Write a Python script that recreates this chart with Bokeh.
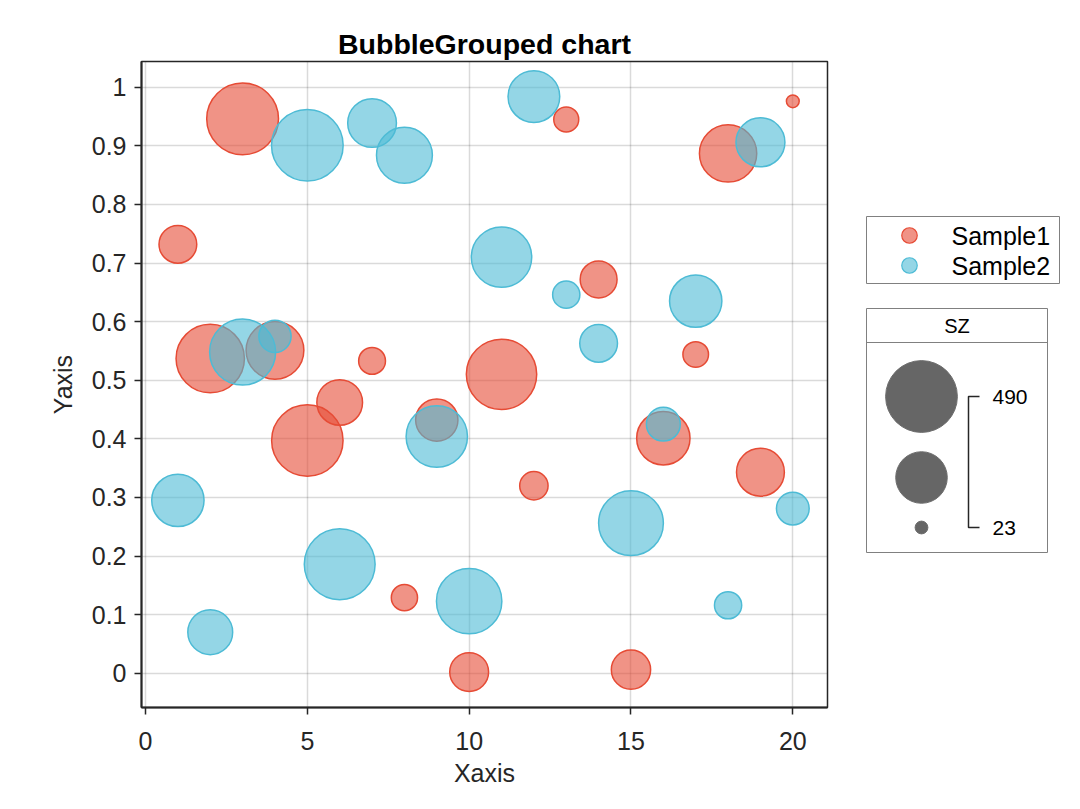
import numpy as np
from bokeh.plotting import figure
from bokeh.layouts import row
from bokeh.models import Range1d, FixedTicker, CustomJSTickFormatter
from bokeh.embed import file_html
from bokeh.resources import INLINE
from bokeh.core.properties import value

# ---------------- data ----------------
series_names = ["Sample1", "Sample2"]
series_fill = ["#E64B35", "#4DBBD5"]

x_s1 = list(range(1, 21))
y_s1 = [0.732, 0.537, 0.946, 0.551, 0.397, 0.462, 0.533, 0.129, 0.432, 0.002,
        0.510, 0.320, 0.945, 0.672, 0.006, 0.401, 0.544, 0.887, 0.343, 0.976]
sz_s1 = [141, 445, 490, 320, 485, 203, 75, 72, 175, 149,
         471, 83, 66, 135, 152, 274, 69, 315, 222, 23]

x_s2 = list(range(1, 21))
y_s2 = [0.295, 0.070, 0.548, 0.575, 0.901, 0.186, 0.939, 0.884, 0.404, 0.123,
        0.710, 0.984, 0.646, 0.563, 0.256, 0.425, 0.635, 0.116, 0.906, 0.281]
sz_s2 = [264, 196, 415, 105, 488, 477, 230, 300, 360, 408,
         349, 258, 77, 141, 400, 115, 264, 77, 232, 108]

x_ticks = [0, 5, 10, 15, 20]
y_ticks = [0, 0.1, 0.2, 0.3, 0.4, 0.5, 0.6, 0.7, 0.8, 0.9, 1]

# ---------------- bubble size scale (area linear) ----------------
R_MIN, R_MAX = 6.4, 35.9
all_sz = sz_s1 + sz_s2
SMIN, SMAX = min(all_sz), max(all_sz)


def diam(s):
    s = np.asarray(s, dtype=float)
    return 2 * np.sqrt(R_MIN ** 2 + (s - SMIN) / (SMAX - SMIN) * (R_MAX ** 2 - R_MIN ** 2))


FONT = "Liberation Sans"
DARK = "#262626"

# ---------------- main figure ----------------
W1, H = 850, 790
FR_TOP, FR_BOTTOM = 61, 707
p = figure(width=W1, height=H,
           x_range=Range1d(-0.124, 21.072), y_range=Range1d(-0.0585, 1.0439),
           output_backend="svg", toolbar_location=None,
           min_border_left=141, min_border_top=FR_TOP, min_border_right=23,
           min_border_bottom=H - FR_BOTTOM,
           title="BubbleGrouped chart")
p.title.align = "center"
p.title.text_font = FONT
p.title.text_font_size = "28.5px"
p.title.text_font_style = "bold"
p.title.text_color = "black"
p.title.standoff = 4

p.outline_line_color = DARK
p.outline_line_width = 1.5

for ax in (p.xaxis[0], p.yaxis[0]):
    ax.axis_line_color = DARK
    ax.axis_line_width = 2
    ax.major_tick_line_color = DARK
    ax.major_tick_line_width = 1.5
    ax.major_tick_in = 0
    ax.major_tick_out = 7
    ax.minor_tick_line_color = None
    ax.major_label_text_font = FONT
    ax.major_label_text_font_size = "25px"
    ax.major_label_text_color = DARK
    ax.axis_label_text_font = FONT
    ax.axis_label_text_font_size = "25px"
    ax.axis_label_text_font_style = "normal"
    ax.axis_label_text_color = DARK

p.xaxis.ticker = FixedTicker(ticks=x_ticks)
p.yaxis.ticker = FixedTicker(ticks=y_ticks)
p.yaxis.formatter = CustomJSTickFormatter(code="return String(Number(tick.toFixed(3)));")
p.xaxis.axis_label = "Xaxis"
p.yaxis.axis_label = "Yaxis"
p.xaxis.major_label_standoff = 17
p.yaxis.major_label_standoff = 8
p.xaxis.axis_label_standoff = 6
p.yaxis.axis_label_standoff = 12

p.grid.grid_line_color = DARK
p.grid.grid_line_alpha = 0.17
p.grid.grid_line_width = 1.5

series = [(x_s1, y_s1, sz_s1), (x_s2, y_s2, sz_s2)]
for (xs, ys, ss), col, name in zip(series, series_fill, series_names):
    p.scatter(x=xs, y=ys, size=diam(ss), marker="circle",
              fill_color=col, fill_alpha=0.6, line_color=col, line_width=1.5)

# ---------------- legend panel (page pixel coordinates) ----------------
# the row layout aligns this panel's frame with the main frame (rows FR_TOP..FR_BOTTOM)
W2 = 1064 - W1
X0 = W1
q = figure(width=W2, height=H, x_range=Range1d(X0, X0 + W2), y_range=Range1d(FR_BOTTOM, FR_TOP),
           output_backend="svg", toolbar_location=None, min_border=0,
           x_axis_type=None, y_axis_type=None)
q.outline_line_color = None
q.grid.visible = False

BOX = "#808080"
# series legend
q.quad(left=866, right=1059, top=216, bottom=283, fill_color="white", line_color=BOX, line_width=1)
q.scatter(x=[909, 909], y=[235, 265], size=15.5, marker="circle",
          fill_color=series_fill, fill_alpha=0.6, line_color=series_fill, line_width=1.2)
q.text(x=[951, 951], y=[235, 265], text=series_names, text_font=value(FONT),
       text_font_size="25px", text_baseline="middle", text_align="left", text_color="black")

# size legend
q.quad(left=866, right=1047, top=308, bottom=552, fill_color="white", line_color=BOX, line_width=1)
q.segment(x0=[866], y0=[342], x1=[1047], y1=[342], line_color=BOX, line_width=1)
q.text(x=[956.5], y=[325.5], text=["SZ"], text_font=value(FONT), text_font_size="20px",
       text_baseline="middle", text_align="center", text_color="black")
legend_sizes = [SMAX, (SMAX + SMIN) / 2, SMIN]
q.scatter(x=[921, 921, 921], y=[396, 477, 527], size=diam(legend_sizes), marker="circle",
          fill_color="#666666", line_color="#6e6e6e", line_width=1)
q.line(x=[979, 968, 968, 979], y=[396, 396, 527, 527], line_color=DARK, line_width=1.5)
q.text(x=[992, 992], y=[396, 527], text=[str(SMAX), str(SMIN)], text_font=value(FONT),
       text_font_size="21px", text_baseline="middle", text_align="left", text_color="black")

layout = row(p, q, spacing=0)
open("out.html", "w").write(file_html(layout, INLINE))
